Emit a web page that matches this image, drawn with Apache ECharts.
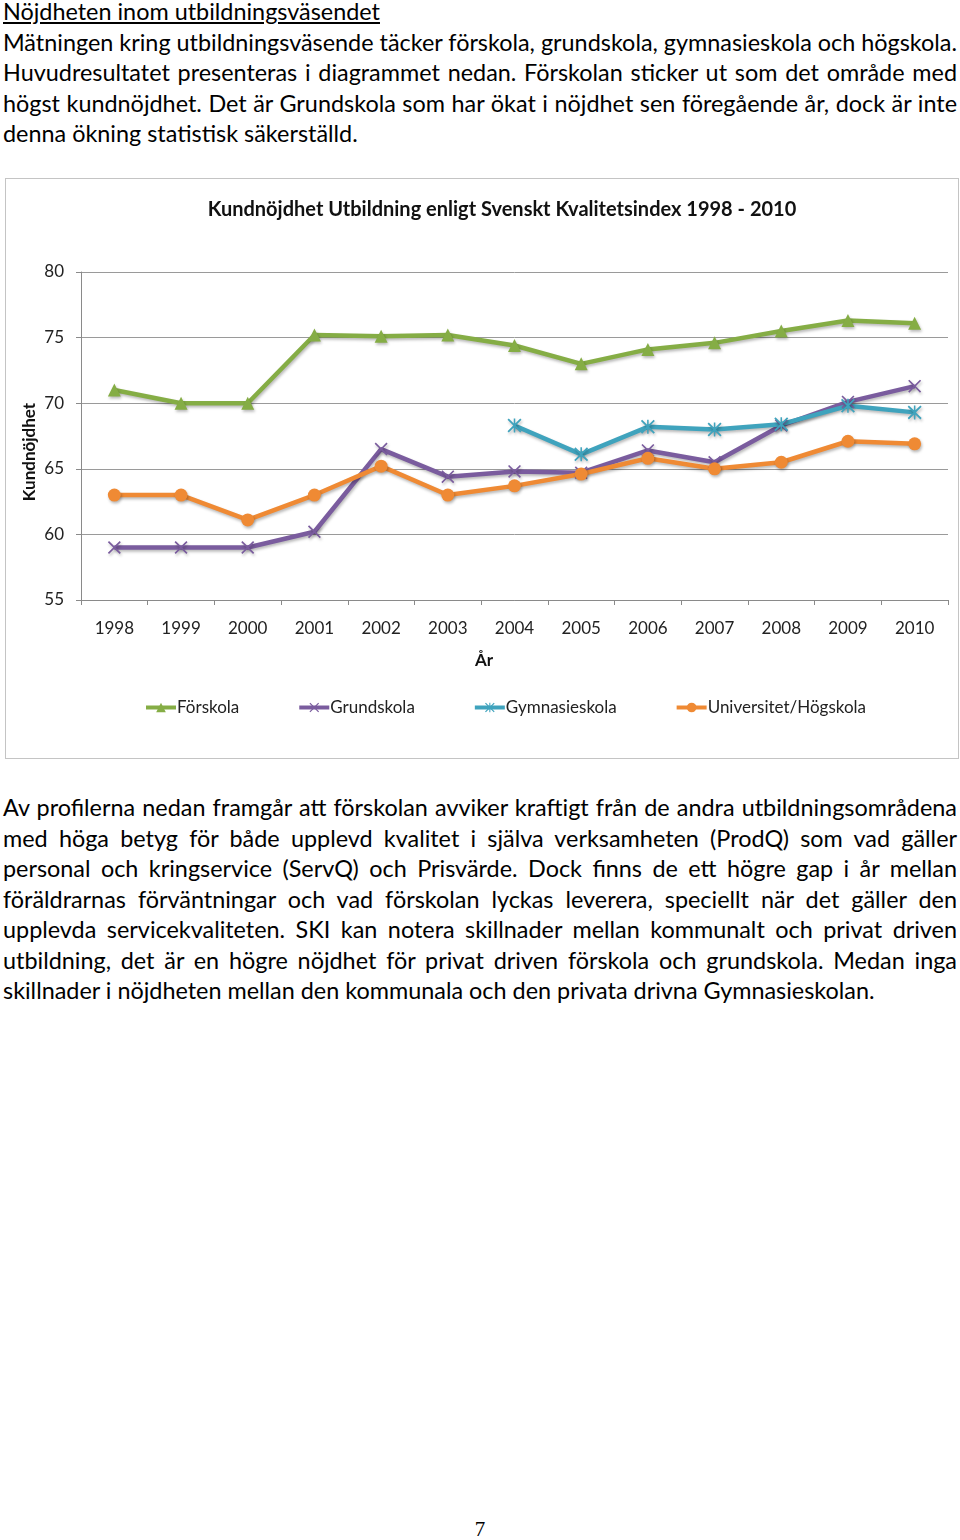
<!DOCTYPE html>
<html><head><meta charset="utf-8">
<script src="https://cdn.jsdelivr.net/npm/echarts@6/dist/echarts.min.js"></script>
<style>
html,body{margin:0;padding:0;background:#fff;}
body{width:960px;height:1540px;position:relative;overflow:hidden;font-family:Lato,"Open Sans",sans-serif;color:#000;}
.ln{position:absolute;left:3px;width:954px;height:30.5px;line-height:30.5px;font-size:23.4px;white-space:nowrap;}
.j{text-align:justify;text-align-last:justify;}
.u{text-decoration:underline;}
#chart{position:absolute;left:5px;top:178px;width:954px;height:581px;border:1px solid #c4c4c4;box-sizing:border-box;}
#pg{position:absolute;left:0;width:960px;top:1517px;text-align:center;font-family:"Liberation Serif","DejaVu Serif",serif;font-size:21px;}
</style></head>
<body>
<div class="ln u" style="top:-4px">Nöjdheten inom utbildningsväsendet</div>
<div class="ln j" style="top:26.5px">Mätningen kring utbildningsväsende täcker förskola, grundskola, gymnasieskola och högskola.</div>
<div class="ln j" style="top:57px">Huvudresultatet presenteras i diagrammet nedan. Förskolan sticker ut som det område med</div>
<div class="ln j" style="top:87.5px">högst kundnöjdhet. Det är Grundskola som har ökat i nöjdhet sen föregående år, dock är inte</div>
<div class="ln" style="top:118px">denna ökning statistisk säkerställd.</div>

<div id="chart"></div>

<div class="ln j" style="top:792px">Av profilerna nedan framgår att förskolan avviker kraftigt från de andra utbildningsområdena</div>
<div class="ln j" style="top:822.5px">med höga betyg för både upplevd kvalitet i själva verksamheten (ProdQ) som vad gäller</div>
<div class="ln j" style="top:853px">personal och kringservice (ServQ) och Prisvärde. Dock finns de ett högre gap i år mellan</div>
<div class="ln j" style="top:883.5px">föräldrarnas förväntningar och vad förskolan lyckas leverera, speciellt när det gäller den</div>
<div class="ln j" style="top:914px">upplevda servicekvaliteten. SKI kan notera skillnader mellan kommunalt och privat driven</div>
<div class="ln j" style="top:944.5px">utbildning, det är en högre nöjdhet för privat driven förskola och grundskola. Medan inga</div>
<div class="ln" style="top:975px">skillnader i nöjdheten mellan den kommunala och den privata drivna Gymnasieskolan.</div>

<div id="pg">7</div>

<script>
const years = ['1998','1999','2000','2001','2002','2003','2004','2005','2006','2007','2008','2009','2010'];
const forskola = [71.0, 70.0, 70.0, 75.2, 75.1, 75.2, 74.4, 73.0, 74.1, 74.6, 75.5, 76.3, 76.1];
const grundskola = [59.0, 59.0, 59.0, 60.2, 66.5, 64.4, 64.8, 64.7, 66.4, 65.5, 68.3, 70.1, 71.3];
const gymnasieskola = [null, null, null, null, null, null, 68.3, 66.1, 68.2, 68.0, 68.4, 69.8, 69.3];
const hogskola = [63.0, 63.0, 61.1, 63.0, 65.2, 63.0, 63.7, 64.6, 65.8, 65.0, 65.5, 67.1, 66.9];
const seriesNames = ['Förskola','Grundskola','Gymnasieskola','Universitet/Högskola'];
const yTicks = {min:55, max:80, interval:5};

const XPATH = 'path://M0,0.9 L0.9,0 L5,4.1 L9.1,0 L10,0.9 L5.9,5 L10,9.1 L9.1,10 L5,5.9 L0.9,10 L0,9.1 L4.1,5 Z';
const STAR = 'path://M0,0.9 L0.9,0 L5,4.1 L9.1,0 L10,0.9 L5.9,5 L10,9.1 L9.1,10 L5,5.9 L0.9,10 L0,9.1 L4.1,5 Z M4.45,0 L5.55,0 L5.55,10 L4.45,10 Z';
const colors = ['#85ad45','#7a5c9e','#3fa3bd','#ef8a34'];
const shadow = {shadowColor:'rgba(0,0,0,0.28)', shadowBlur:3, shadowOffsetX:1, shadowOffsetY:2};

const chart = echarts.init(document.getElementById('chart'), null, {renderer:'canvas'});
const font = 'Lato';
function mk(name, data, color, symbol, size){
  return {
    name, type:'line', data, color, symbol, symbolSize:size, showAllSymbol:true,
    lineStyle:Object.assign({width:4.5, color}, shadow),
    itemStyle:Object.assign({color}, shadow),
    connectNulls:false, animation:false, emphasis:{disabled:true}
  };
}
chart.setOption({
  animation:false,
  title:{
    text:'Kundnöjdhet Utbildning enligt Svenskt Kvalitetsindex 1998 - 2010',
    left:491, top:16, textAlign:'center',
    textStyle:{fontFamily:font, fontSize:20, fontWeight:'bold', color:'#111'}
  },
  grid:{left:75, right:10, top:93, bottom:158, containLabel:false},
  xAxis:{
    type:'category', data:years, boundaryGap:true,
    axisLine:{lineStyle:{color:'#8a8a8a', width:1}},
    axisTick:{show:true, length:5, lineStyle:{color:'#8a8a8a'}},
    axisLabel:{margin:20, fontFamily:font, fontSize:17, color:'#222'},
    splitLine:{show:false}
  },
  yAxis:{
    type:'value', min:yTicks.min, max:yTicks.max, interval:yTicks.interval,
    axisLine:{show:true, lineStyle:{color:'#8a8a8a', width:1}},
    axisTick:{show:true, length:5, lineStyle:{color:'#8a8a8a'}},
    axisLabel:{margin:17, fontFamily:font, fontSize:17, color:'#222'},
    splitLine:{show:true, lineStyle:{color:'#9a9a9a', width:1}}
  },
  legend:{
    data:seriesNames, left:133, top:515, itemGap:58, itemWidth:30, itemHeight:12,
    lineStyle:{width:4},
    textStyle:{fontFamily:font, fontSize:17, color:'#222', padding:[0,0,0,-4]}
  },
  graphic:[
    {type:'text', position:[478,482], style:{text:'År', font:'bold 17px Lato', fill:'#111', textAlign:'center', textVerticalAlign:'middle'}},
    {type:'text', position:[24,273], rotation:Math.PI/2, style:{text:'Kundnöjdhet', font:'bold 17px Lato', fill:'#111', textAlign:'center', textVerticalAlign:'middle'}}
  ],
  series:[
    mk(seriesNames[0], forskola, colors[0], 'triangle', 13),
    mk(seriesNames[1], grundskola, colors[1], XPATH, 13),
    mk(seriesNames[2], gymnasieskola, colors[2], STAR, 14),
    mk(seriesNames[3], hogskola, colors[3], 'circle', 13)
  ]
});
</script>
</body></html>
